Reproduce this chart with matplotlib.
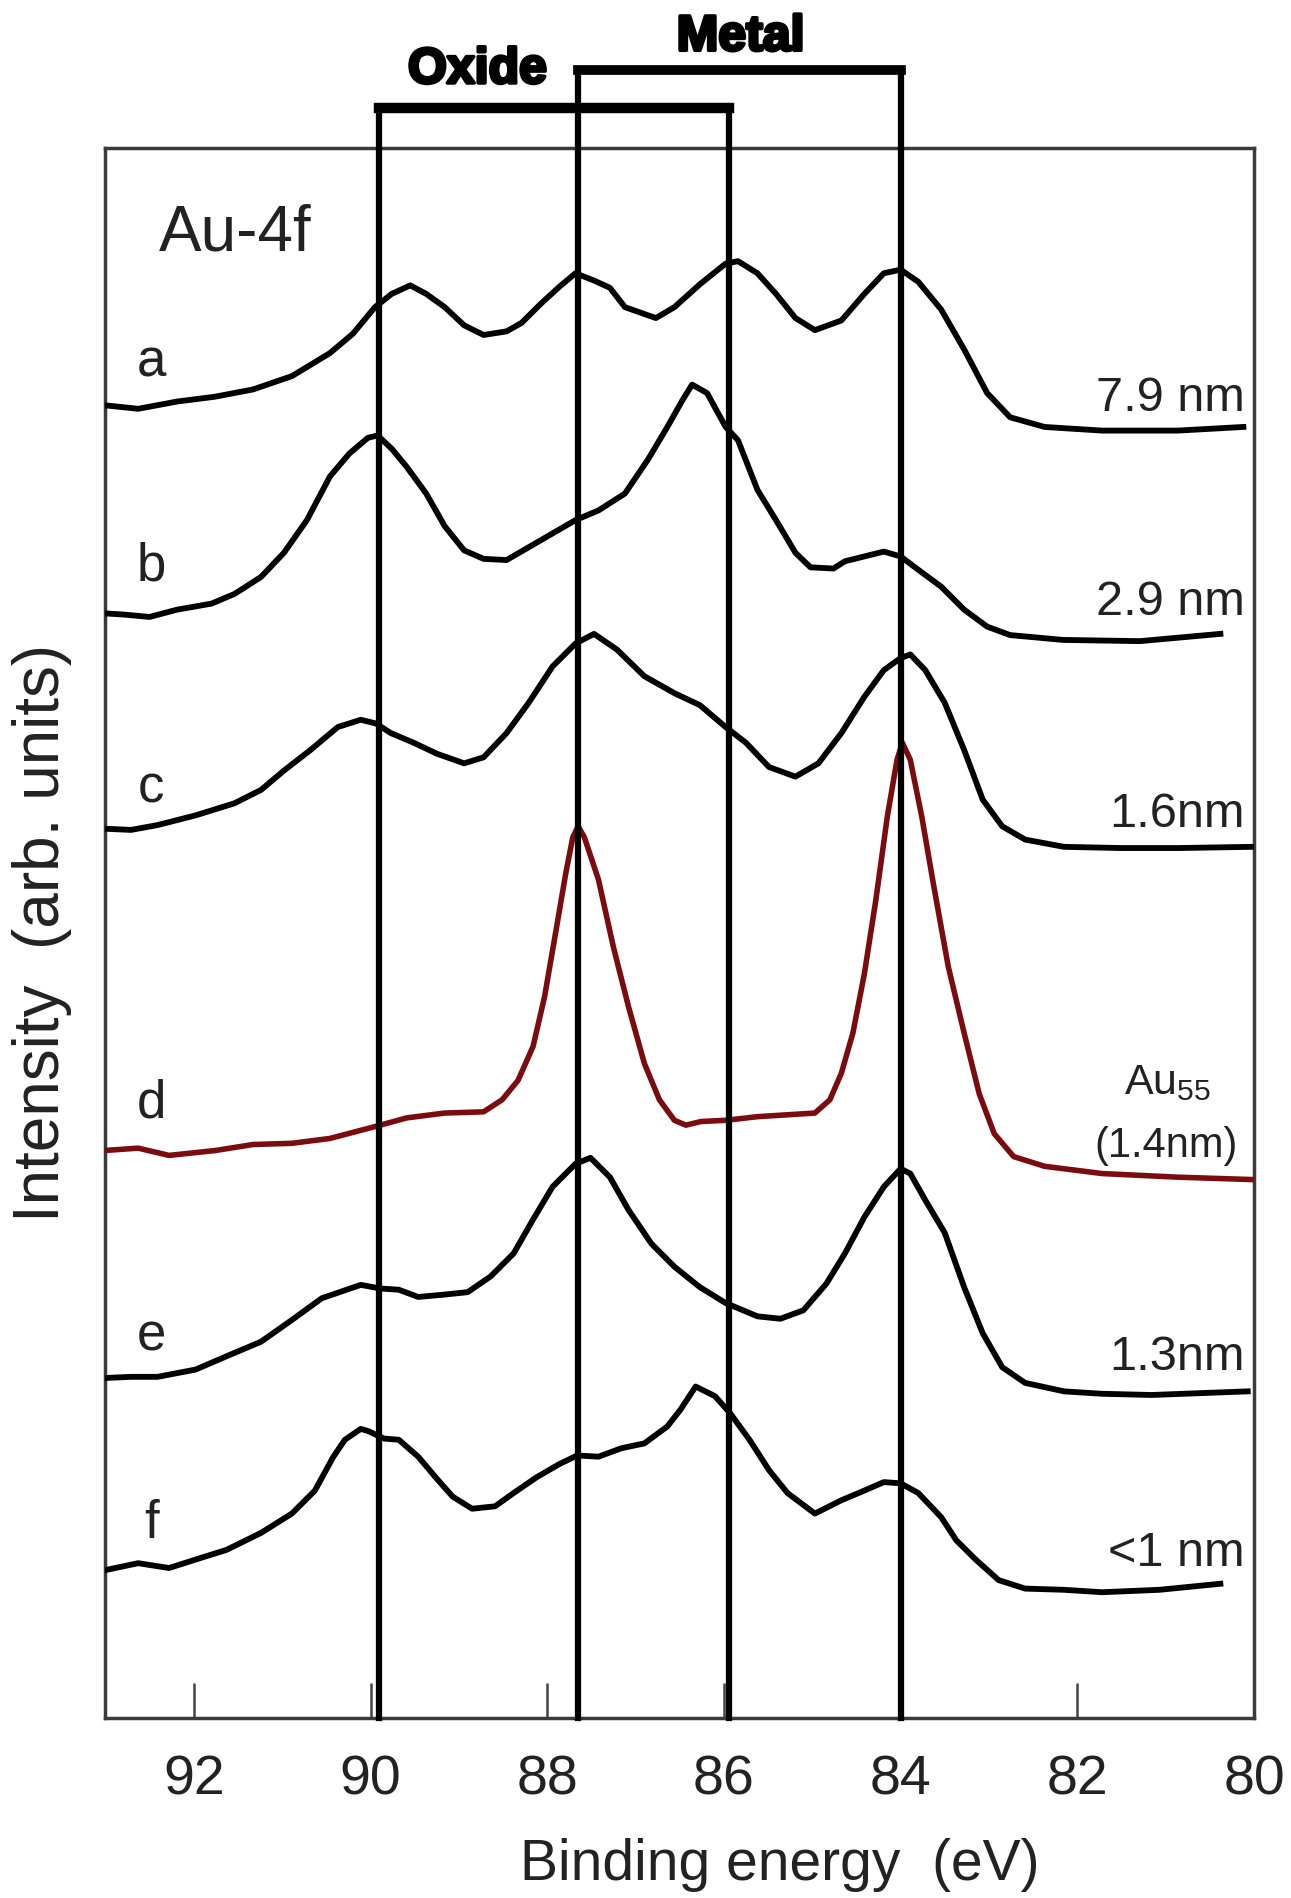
import matplotlib
matplotlib.use("Agg")
import matplotlib.pyplot as plt
import matplotlib.patheffects as pe

plt.rcParams['font.family'] = ['Liberation Sans', 'DejaVu Sans']
plt.rcParams['mathtext.default'] = 'regular'

# binding energy (eV) and intensity (arb. units, curves stacked)
ev_a = [93.02, 92.63, 92.19, 91.76, 91.33, 90.89, 90.46, 90.20, 89.95, 89.76,
        89.55, 89.37, 89.16, 88.94, 88.72, 88.46, 88.29, 88.07, 87.86, 87.68,
        87.47, 87.29, 87.12, 86.77, 86.56, 86.27, 85.98, 85.84, 85.62, 85.41,
        85.19, 84.97, 84.67, 84.41, 84.19, 84.00, 83.80, 83.54, 83.28, 83.02,
        82.76, 82.37, 81.72, 80.86, 80.12]
int_a = [10.85, 10.82, 10.88, 10.92, 10.98, 11.09, 11.28, 11.44, 11.66, 11.77,
         11.84, 11.77, 11.66, 11.51, 11.43, 11.46, 11.53, 11.69, 11.83, 11.94,
         11.88, 11.82, 11.66, 11.57, 11.66, 11.85, 12.02, 12.04, 11.94, 11.77,
         11.57, 11.47, 11.55, 11.77, 11.94, 11.97, 11.87, 11.64, 11.31, 10.95,
         10.75, 10.67, 10.64, 10.64, 10.67]

ev_b = [93.02, 92.80, 92.50, 92.19, 91.80, 91.54, 91.24, 90.98, 90.72, 90.46,
        90.24, 90.03, 89.92, 89.76, 89.59, 89.37, 89.16, 88.94, 88.72, 88.46,
        88.20, 87.94, 87.68, 87.42, 87.12, 86.86, 86.64, 86.47, 86.36, 86.19,
        85.98, 85.84, 85.62, 85.41, 85.19, 85.02, 84.76, 84.63, 84.41, 84.19,
        84.00, 83.80, 83.54, 83.28, 83.02, 82.76, 82.16, 81.29, 80.38]
int_b = [9.13, 9.12, 9.10, 9.16, 9.21, 9.29, 9.43, 9.63, 9.90, 10.26,
         10.45, 10.58, 10.60, 10.49, 10.34, 10.12, 9.85, 9.65, 9.58, 9.57,
         9.68, 9.79, 9.90, 9.98, 10.12, 10.40, 10.67, 10.89, 11.02, 10.95,
         10.67, 10.56, 10.15, 9.90, 9.63, 9.51, 9.50, 9.56, 9.60, 9.64,
         9.60, 9.49, 9.35, 9.16, 9.02, 8.95, 8.91, 8.90, 8.96]

ev_c = [93.02, 92.71, 92.41, 91.98, 91.54, 91.24, 90.98, 90.68, 90.37, 90.11,
        89.94, 89.77, 89.51, 89.25, 88.94, 88.72, 88.46, 88.21, 87.94, 87.68,
        87.47, 87.21, 86.90, 86.56, 86.27, 85.98, 85.75, 85.49, 85.19, 84.93,
        84.67, 84.41, 84.19, 84.00, 83.89, 83.72, 83.50, 83.28, 83.07, 82.85,
        82.59, 82.15, 81.50, 80.86, 80.03]
int_c = [7.35, 7.34, 7.38, 7.46, 7.56, 7.67, 7.83, 8.00, 8.19, 8.25,
         8.22, 8.14, 8.06, 7.97, 7.89, 7.94, 8.14, 8.39, 8.69, 8.88,
         8.96, 8.83, 8.61, 8.47, 8.37, 8.19, 8.06, 7.86, 7.78, 7.89,
         8.14, 8.44, 8.66, 8.76, 8.79, 8.66, 8.39, 8.00, 7.59, 7.37,
         7.26, 7.20, 7.19, 7.19, 7.20]

ev_d = [93.02, 92.63, 92.28, 91.76, 91.33, 90.89, 90.46, 89.94, 89.59, 89.16,
        88.72, 88.51, 88.33, 88.16, 88.03, 87.90, 87.79, 87.71, 87.65, 87.58,
        87.42, 87.25, 87.08, 86.90, 86.73, 86.56, 86.43, 86.26, 85.98, 85.62,
        84.97, 84.80, 84.67, 84.54, 84.41, 84.28, 84.15, 84.04, 83.98, 83.89,
        83.76, 83.63, 83.46, 83.28, 83.11, 82.94, 82.72, 82.37, 81.72, 80.86,
        80.01]
int_d = [4.69, 4.71, 4.65, 4.69, 4.74, 4.75, 4.79, 4.89, 4.96, 5.00,
         5.01, 5.11, 5.27, 5.55, 5.96, 6.51, 6.98, 7.28, 7.37, 7.28,
         6.93, 6.37, 5.88, 5.41, 5.11, 4.94, 4.90, 4.93, 4.94, 4.97,
         5.00, 5.11, 5.33, 5.66, 6.15, 6.76, 7.45, 7.92, 8.06, 7.92,
         7.45, 6.90, 6.21, 5.66, 5.16, 4.83, 4.64, 4.56, 4.50, 4.47,
         4.45]

ev_e = [93.02, 92.71, 92.41, 91.98, 91.63, 91.24, 90.89, 90.55, 90.11, 89.89,
        89.68, 89.46, 89.16, 88.90, 88.64, 88.38, 88.16, 87.94, 87.68, 87.51,
        87.29, 87.08, 86.82, 86.56, 86.27, 85.98, 85.62, 85.36, 85.10, 84.84,
        84.63, 84.41, 84.19, 84.00, 83.89, 83.72, 83.50, 83.28, 83.07, 82.85,
        82.59, 82.15, 81.72, 81.16, 80.07]
int_e = [2.81, 2.82, 2.82, 2.88, 2.99, 3.11, 3.29, 3.47, 3.58, 3.55,
         3.54, 3.48, 3.50, 3.52, 3.65, 3.84, 4.12, 4.39, 4.58, 4.63,
         4.47, 4.20, 3.92, 3.73, 3.56, 3.43, 3.32, 3.30, 3.37, 3.59,
         3.84, 4.14, 4.39, 4.54, 4.50, 4.28, 4.01, 3.56, 3.18, 2.90,
         2.77, 2.70, 2.68, 2.67, 2.70]

ev_f = [93.02, 92.63, 92.28, 91.98, 91.63, 91.24, 90.89, 90.63, 90.42, 90.29,
        90.11, 90.02, 89.85, 89.68, 89.46, 89.24, 89.07, 88.85, 88.59, 88.38,
        88.12, 87.86, 87.66, 87.42, 87.16, 86.90, 86.64, 86.49, 86.32, 86.10,
        85.93, 85.71, 85.49, 85.28, 84.97, 84.67, 84.41, 84.19, 84.00, 83.80,
        83.54, 83.37, 83.15, 82.89, 82.59, 82.15, 81.72, 81.07, 80.38]
int_f = [1.22, 1.28, 1.24, 1.31, 1.39, 1.53, 1.69, 1.88, 2.16, 2.30,
         2.39, 2.37, 2.31, 2.30, 2.16, 1.97, 1.83, 1.73, 1.75, 1.86,
         1.99, 2.10, 2.17, 2.16, 2.23, 2.27, 2.41, 2.55, 2.74, 2.66,
         2.52, 2.30, 2.05, 1.86, 1.69, 1.80, 1.88, 1.95, 1.94, 1.86,
         1.66, 1.47, 1.31, 1.14, 1.07, 1.06, 1.04, 1.06, 1.11]

letters = ['a', 'b', 'c', 'd', 'e', 'f']
letter_y = [11.20, 9.52, 7.68, 5.08, 3.15, 1.60]
sizes = ['7.9 nm', '2.9 nm', '1.6nm', None, '1.3nm', '<1 nm']
size_y = [10.80, 9.12, 7.36, None, 2.88, 1.26]

oxide_lines = [89.9, 85.94]
metal_lines = [87.65, 84.0]
oxide_top = 13.31
metal_top = 13.62

txt = '#222222'
fig = plt.figure(figsize=(12.91, 18.98), dpi=100)
ax = fig.add_axes([0.0817, 0.0948, 0.8896, 0.8272])

curves = [(ev_a, int_a), (ev_b, int_b), (ev_c, int_c),
          (ev_d, int_d), (ev_e, int_e), (ev_f, int_f)]
for i, (ev, inten) in enumerate(curves):
    if i == 3:
        ax.plot(ev, inten, color='#7a0c10', lw=4.0, solid_joinstyle='round', zorder=3)
    else:
        ax.plot(ev, inten, color='black', lw=4.2, solid_joinstyle='round', zorder=3)

# peak position markers with brackets above the frame
for x in oxide_lines:
    ax.plot([x, x], [0, oxide_top], color='black', lw=4.5, clip_on=False, zorder=4)
for x in metal_lines:
    ax.plot([x, x], [0, metal_top], color='black', lw=4.5, clip_on=False, zorder=4)
ax.plot(oxide_lines, [oxide_top, oxide_top], color='black', lw=7.5,
        solid_capstyle='projecting', clip_on=False, zorder=4)
ax.plot(metal_lines, [metal_top, metal_top], color='black', lw=7,
        solid_capstyle='projecting', clip_on=False, zorder=4)
bold = [pe.withStroke(linewidth=2.5, foreground='black')]
ax.text(88.79, 13.62, 'Oxide', fontsize=36, fontweight='bold', ha='center',
        va='center', clip_on=False, path_effects=bold)
ax.text(85.81, 13.89, 'Metal', fontsize=36, fontweight='bold', ha='center',
        va='center', clip_on=False, path_effects=bold)

ax.text(92.39, 12.13, 'Au-4f', fontsize=46, color=txt, ha='left', va='baseline')
for lab, y in zip(letters, letter_y):
    ax.text(92.48, y, lab, fontsize=38, color=txt, ha='center', va='center')
for lab, y in zip(sizes, size_y):
    if lab:
        ax.text(80.10, y, lab, fontsize=35, color=txt, ha='right', va='baseline')
ax.text(80.98, 5.16, r'Au$_{55}$', fontsize=31, color=txt, ha='center', va='baseline')
ax.text(81.0, 4.64, '(1.4nm)', fontsize=30, color=txt, ha='center', va='baseline')

ax.set_xlim(93, 80)
ax.set_ylim(0, 12.975)
ax.set_xticks([92, 90, 88, 86, 84, 82, 80])
ax.set_yticks([])
ax.tick_params(axis='x', direction='in', length=25, width=1.8, color='#444444',
               pad=26, labelsize=40, labelcolor=txt)
for s in ax.spines.values():
    s.set_linewidth(2.5)
    s.set_color('#3a3a3a')

fig.text(780 / 1291, 1 - 1880 / 1898, 'Binding energy  (eV)', fontsize=41,
         color=txt, ha='center', va='baseline')
fig.text(42 / 1291, 1 - 933 / 1898, 'Intensity  (arb. units)', fontsize=46,
         color=txt, rotation=90, ha='center', va='center')

fig.savefig('out.png', dpi=100)
